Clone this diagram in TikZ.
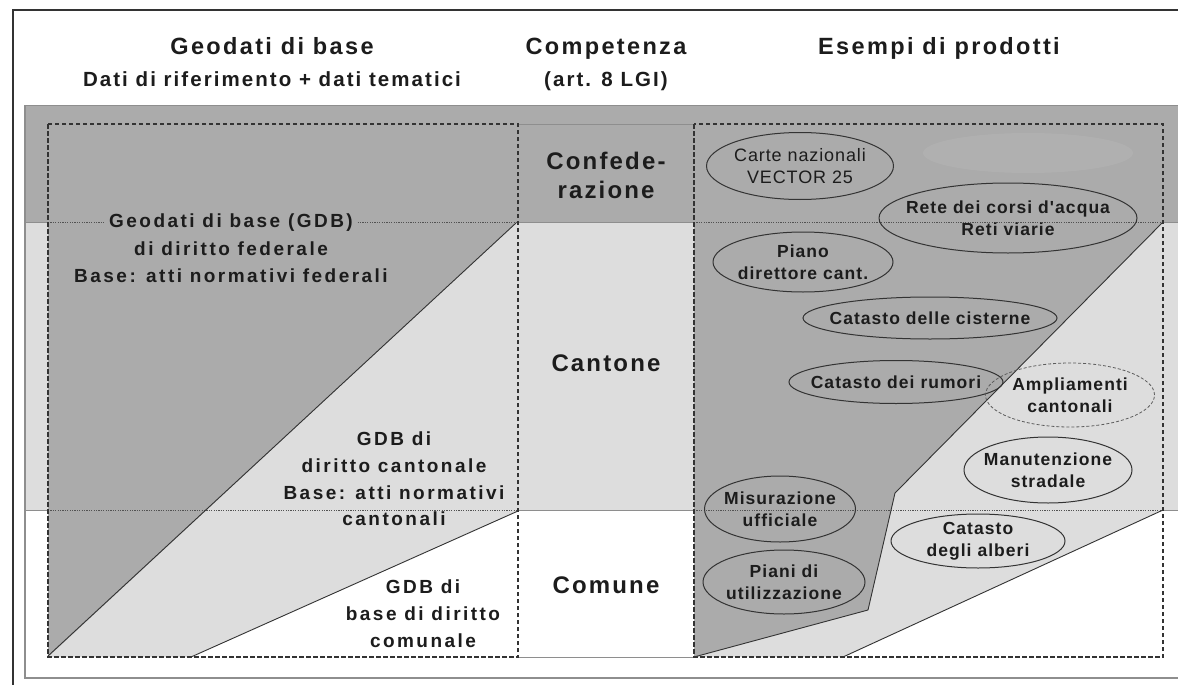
\documentclass[tikz,border=0pt]{standalone}
\usepackage{fontspec}
\setmainfont{Liberation Sans}
\newfontfamily\hfont{Liberation Sans}[LetterSpace=10]
\newfontfamily\mfont{Liberation Sans}[LetterSpace=9]
\newfontfamily\lfont{Liberation Sans}[LetterSpace=13]
\newfontfamily\efont{Liberation Sans}[LetterSpace=6]
\newfontfamily\cfont{Liberation Sans}[LetterSpace=5]
\usetikzlibrary{shapes.geometric}
\definecolor{dkg}{HTML}{ABABAB}
\definecolor{ltg}{HTML}{DDDDDD}
\definecolor{blobc}{HTML}{B0B0B0}
\definecolor{lnc}{HTML}{333333}
\definecolor{bandc}{HTML}{8E8E8E}
\definecolor{txt}{HTML}{1C1C1C}
\begin{document}
\begin{tikzpicture}[x=1pt,y=-1pt,
  hd/.style={font=\hfont\bfseries\fontsize{23.5}{28}\selectfont, text=txt, inner sep=0pt, anchor=base},
  hdsub/.style={font=\hfont\bfseries\fontsize{20.5}{24}\selectfont, text=txt, inner sep=0pt, anchor=base},
  midlbl/.style={font=\mfont\bfseries\fontsize{24}{29}\selectfont, text=txt, align=center, inner sep=0pt},
  leftlbl/.style={font=\lfont\bfseries\fontsize{19}{27}\selectfont, text=txt, align=center, inner sep=0pt},
  ell/.style={ellipse, draw=lnc, line width=1pt, inner sep=0pt},
  elldash/.style={ellipse, draw=lnc!80, line width=0.8pt, dash pattern=on 3pt off 2pt, inner sep=0pt},
  etext/.style={font=\efont\bfseries\fontsize{17.5}{22}\selectfont, text=txt, align=center, inner sep=0pt},
  ctext/.style={font=\cfont\fontsize{18}{22}\selectfont, text=txt, align=center, inner sep=0pt},
  dbox/.style={draw=lnc, line width=1.2pt, dash pattern=on 4.5pt off 2.5pt},
  dotl/.style={draw=lnc!85, line width=0.8pt, dash pattern=on 1.2pt off 1.2pt},
  diag/.style={draw=lnc, line width=0.9pt, line join=round},
  bandline/.style={draw=bandc, line width=0.9pt},
  frameout/.style={draw=lnc, line width=1.5pt},
  framein/.style={draw=bandc, line width=1.2pt}
]
\useasboundingbox (0,0) rectangle (1178,685);
\fill[white] (0,0) rectangle (1178,685);
% bands
\fill[dkg] (25,105) rectangle (1178,222);
\fill[ltg] (25,222) rectangle (1178,510);
% left box fills
\fill[ltg] (48,657) -- (516,222) -- (518,222) -- (518,511) -- (191,657) -- cycle;
\fill[dkg] (48,222) -- (517,222) -- (48,657) -- cycle;
% right box fills
\fill[ltg] (694,657) -- (843,657) -- (1163,510) -- (1163,222) -- cycle;
\fill[dkg] (694,222) -- (1163,222) -- (895,493) -- (868,610) -- (694,657) -- cycle;
% faint lighter patch
\fill[blobc] (1028,153) ellipse [x radius=105pt, y radius=20pt];
% band borders
\draw[bandline] (25,105) -- (1178,105);
\draw[bandline] (25,222) -- (48,222) (518,222) -- (694,222) (1163,222) -- (1178,222);
\draw[bandline] (25,510) -- (48,510) (518,510) -- (694,510) (1163,510) -- (1178,510);
\draw[bandline] (518,124) -- (694,124) (518,657) -- (694,657);
% frames
\draw[framein] (25,105) -- (25,678) -- (1178,678);
\draw[frameout] (13,685) -- (13,10) -- (1178,10);
% dotted lines
\draw[dotl] (48,222) -- (518,222) (694,222) -- (1163,222);
\draw[dotl] (48,510) -- (518,510) (694,510) -- (1163,510);
% diagonals
\draw[diag] (48,656) -- (516,223);
\draw[diag] (191,657) -- (518,511);
\draw[diag] (1163,222) -- (895,493) -- (868,610) -- (694,657);
\draw[diag] (843,657) -- (1163,510);
% dashed boxes
\draw[dbox] (48,124) rectangle (518,657);
\draw[dbox] (694,124) rectangle (1163,657);
% headers
\node[hd] (h1) at (272,55) {Geodati di base};
\node[hdsub] (h1b) at (272,86) {Dati di riferimento + dati tematici};
\node[hd] (h2) at (606,55) {Competenza};
\node[hdsub] (h2b) at (606,86) {(art. 8 LGI)};
\node[hd] (h3) at (939,55) {Esempi di prodotti};
% middle column
\node[midlbl] (conf) at (606,175) {Confede-\\razione};
\node[midlbl] (cant) at (606,363) {Cantone};
\node[midlbl] (comu) at (606,585) {Comune};
% left labels
\node[leftlbl, fill=dkg, inner xsep=4pt, inner ysep=1pt] (fed1) at (231,223) {Geodati di base (GDB)};
\node[leftlbl] (fed2) at (231,262) {di diritto federale\\Base: atti normativi federali};
\node[leftlbl] (can1) at (394,466) {GDB di\\diritto cantonale\\Base: atti normativi};
\node[leftlbl, fill=ltg, inner xsep=4pt, inner ysep=1pt] (can2) at (394,519) {cantonali};
\node[leftlbl] (com) at (423,614) {GDB di\\base di diritto\\comunale};
% ellipses
\node[ell, minimum width=187pt, minimum height=67pt] (carte) at (800,166) {};
\node[ctext] (carte-t) at (carte.center) {Carte nazionali\\VECTOR 25};
\node[ell, minimum width=258pt, minimum height=70pt] (rete) at (1008,218) {};
\node[etext] (rete-t) at (rete.center) {Rete dei corsi d'acqua\\Reti viarie};
\node[ell, minimum width=180pt, minimum height=60pt] (piano) at (803,262) {};
\node[etext] (piano-t) at (piano.center) {Piano\\direttore cant.};
\node[ell, minimum width=254pt, minimum height=42pt] (cist) at (930,318) {};
\node[etext] (cist-t) at (cist.center) {Catasto delle cisterne};
\node[ell, minimum width=214pt, minimum height=43pt] (rum) at (896,382) {};
\node[etext] (rum-t) at (rum.center) {Catasto dei rumori};
\node[elldash, minimum width=169pt, minimum height=64pt] (ampl) at (1070,395) {};
\node[etext] (ampl-t) at (ampl.center) {Ampliamenti\\cantonali};
\node[ell, minimum width=168pt, minimum height=66pt] (manu) at (1048,470) {};
\node[etext] (manu-t) at (manu.center) {Manutenzione\\stradale};
\node[ell, minimum width=151pt, minimum height=66pt] (misu) at (780,509) {};
\node[etext] (misu-t) at (misu.center) {Misurazione\\ufficiale};
\node[ell, minimum width=162pt, minimum height=64pt] (piani) at (784,582) {};
\node[etext] (piani-t) at (piani.center) {Piani di\\utilizzazione};
\node[ell, minimum width=174pt, minimum height=54pt] (alb) at (978,541) {};
\node[etext] (alb-t) at (alb.center) {Catasto\\degli alberi};
\end{tikzpicture}
\end{document}
